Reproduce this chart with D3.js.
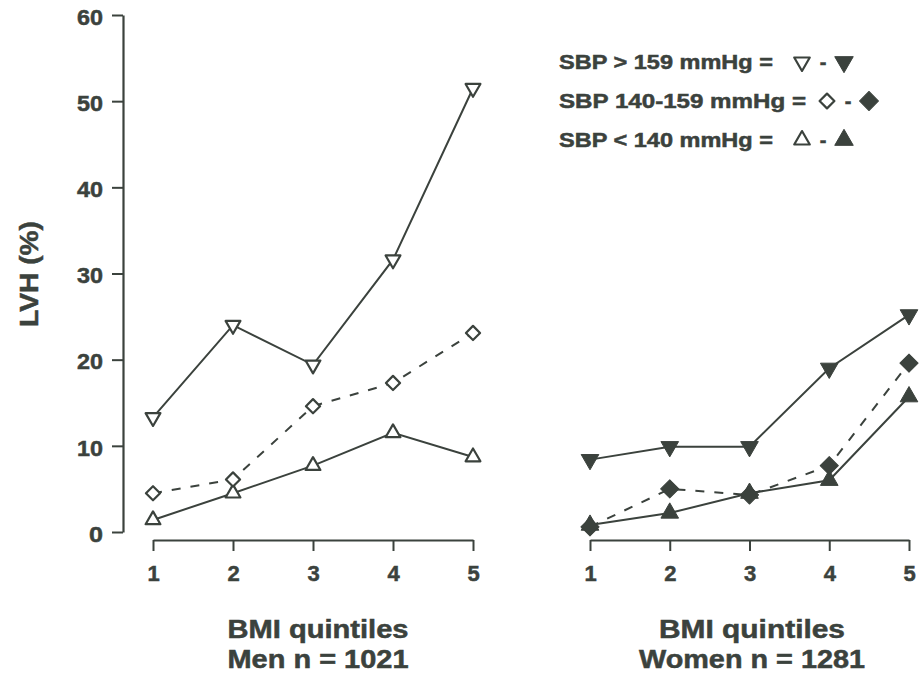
<!DOCTYPE html>
<html><head><meta charset="utf-8">
<script src="https://cdn.jsdelivr.net/npm/d3@7"></script>
<style>body{margin:0;background:#fff}svg{display:block}text{font-family:"Liberation Sans",Arial,sans-serif;font-weight:bold;fill:#3b423d;stroke:#3b423d;stroke-width:0.5px}</style>
</head><body><svg id="c" width="920" height="676"></svg>
<script>
const quintiles = [1, 2, 3, 4, 5];
const yTicks = [0, 10, 20, 30, 40, 50, 60];
const menHigh = [13.3, 24.0, 19.4, 31.6, 51.5];
const menMid = [4.5, 6.1, 14.6, 17.3, 23.1];
const menLow = [1.4, 4.5, 7.7, 11.5, 8.7];
const womenHigh = [8.4, 9.9, 9.9, 19.0, 25.2];
const womenMid = [0.6, 5.0, 4.3, 7.7, 19.6];
const womenLow = [0.8, 2.2, 4.5, 6.0, 15.7];
const legendLabels = ["SBP > 159 mmHg =", "SBP 140-159 mmHg =", "SBP < 140 mmHg ="];
const yLabel = "LVH (%)";
const xLabel = "BMI quintiles";
const menLabel = "Men n = 1021";
const womenLabel = "Women n = 1281";

const ink = "#3b423d";
const svg = d3.select("#c");
const y = d3.scaleLinear().domain([0, 60]).range([532, 15]);
const xMen = d3.scaleLinear().domain([1, 5]).range([153, 473]);
const xWomen = d3.scaleLinear().domain([1, 5]).range([590, 909]);

// Y axis
const yAx = svg.append("g").attr("transform", "translate(123,0)")
  .call(d3.axisLeft(y).tickValues(yTicks).tickSize(11).tickPadding(9).tickSizeOuter(0));
yAx.attr("font-size", null).attr("font-family", null);
yAx.select(".domain").attr("stroke", ink).attr("stroke-width", 2.2);
yAx.selectAll(".tick line").attr("stroke", ink).attr("stroke-width", 2);
yAx.selectAll(".tick text").attr("font-size", 22).attr("dy", "0.42em")
  .attr("textLength", 26).attr("lengthAdjust", "spacingAndGlyphs").attr("fill", ink)
  .each(function(d){ if (d === 0) d3.select(this).attr("textLength", 14); });

function xAxis(x) {
  const g = svg.append("g").attr("transform", "translate(0,540)")
    .call(d3.axisBottom(x).tickValues(quintiles).tickFormat(d3.format("d")).tickSize(11).tickPadding(13).tickSizeOuter(0));
  g.attr("font-size", null).attr("font-family", null);
  g.select(".domain").attr("stroke", ink).attr("stroke-width", 2.2);
  g.selectAll(".tick line").attr("stroke", ink).attr("stroke-width", 2);
  g.selectAll(".tick text").attr("font-size", 22).attr("fill", ink).attr("dy", "0.75em");
}
xAxis(xMen); xAxis(xWomen);

const triUp = d3.symbol().type(d3.symbolTriangle);
const sq = d3.symbol().type(d3.symbolSquare);

function series(x, vals, kind, filled, dashed) {
  const pts = quintiles.map((q, i) => [x(q), y(vals[i])]);
  svg.append("path").attr("d", d3.line()(pts)).attr("fill", "none")
    .attr("stroke", ink).attr("stroke-width", 2)
    .attr("stroke-dasharray", dashed ? "9,10" : null);
  pts.forEach(p => drawMarker(p[0], p[1], kind, filled));
}
function drawMarker(cx, cy, kind, filled, scale) {
  scale = scale || 1;
  let d, rot = 0, size;
  if (kind === "down") { size = (filled ? 135 : 95) * scale; d = triUp.size(size)(); rot = 180; }
  else if (kind === "up") { size = (filled ? 135 : 95) * scale; d = triUp.size(size)(); }
  else { size = (filled ? 165 : 100) * scale; d = sq.size(size)(); rot = 45; }
  svg.append("path").attr("d", d)
    .attr("transform", `translate(${cx},${cy}) rotate(${rot})`)
    .attr("fill", filled ? ink : "#fff")
    .attr("stroke", ink).attr("stroke-width", filled ? 1 : 2.2).attr("stroke-linejoin", "round");
}

series(xMen, menLow, "up", false, false);
series(xMen, menMid, "diamond", false, true);
series(xMen, menHigh, "down", false, false);
series(xWomen, womenLow, "up", true, false);
series(xWomen, womenMid, "diamond", true, true);
series(xWomen, womenHigh, "down", true, false);

// Legend
const legRows = [
  {label: legendLabels[0], kind: "down", y: 62, w: 214, sx: 802},
  {label: legendLabels[1], kind: "diamond", y: 101, w: 247, sx: 827},
  {label: legendLabels[2], kind: "up", y: 140, w: 214, sx: 802}
];
legRows.forEach(r => {
  svg.append("text").attr("x", 559).attr("y", r.y + 7).attr("font-size", 20)
    .attr("textLength", r.w).attr("lengthAdjust", "spacingAndGlyphs").text(r.label);
  drawMarker(r.sx, r.y, r.kind, false, 1.1);
  svg.append("text").attr("x", r.sx + 21).attr("y", r.y + 7).attr("font-size", 20)
    .attr("text-anchor", "middle").text("-");
  drawMarker(r.sx + 42, r.y, r.kind, true, 1.1);
});

// Axis titles
svg.append("text").attr("transform", "translate(38,274) rotate(-90)")
  .attr("text-anchor", "middle").attr("font-size", 26)
  .attr("textLength", 106).attr("lengthAdjust", "spacingAndGlyphs").text(yLabel);

function title(cx, l1, w1, l2, w2) {
  svg.append("text").attr("x", cx - w1 / 2).attr("y", 638).attr("font-size", 25)
    .attr("textLength", w1).attr("lengthAdjust", "spacingAndGlyphs").text(l1);
  svg.append("text").attr("x", cx - w2 / 2).attr("y", 668).attr("font-size", 25)
    .attr("textLength", w2).attr("lengthAdjust", "spacingAndGlyphs").text(l2);
}
title(318, xLabel, 181, menLabel, 181);
title(752, xLabel, 186, womenLabel, 226);
</script></body></html>
